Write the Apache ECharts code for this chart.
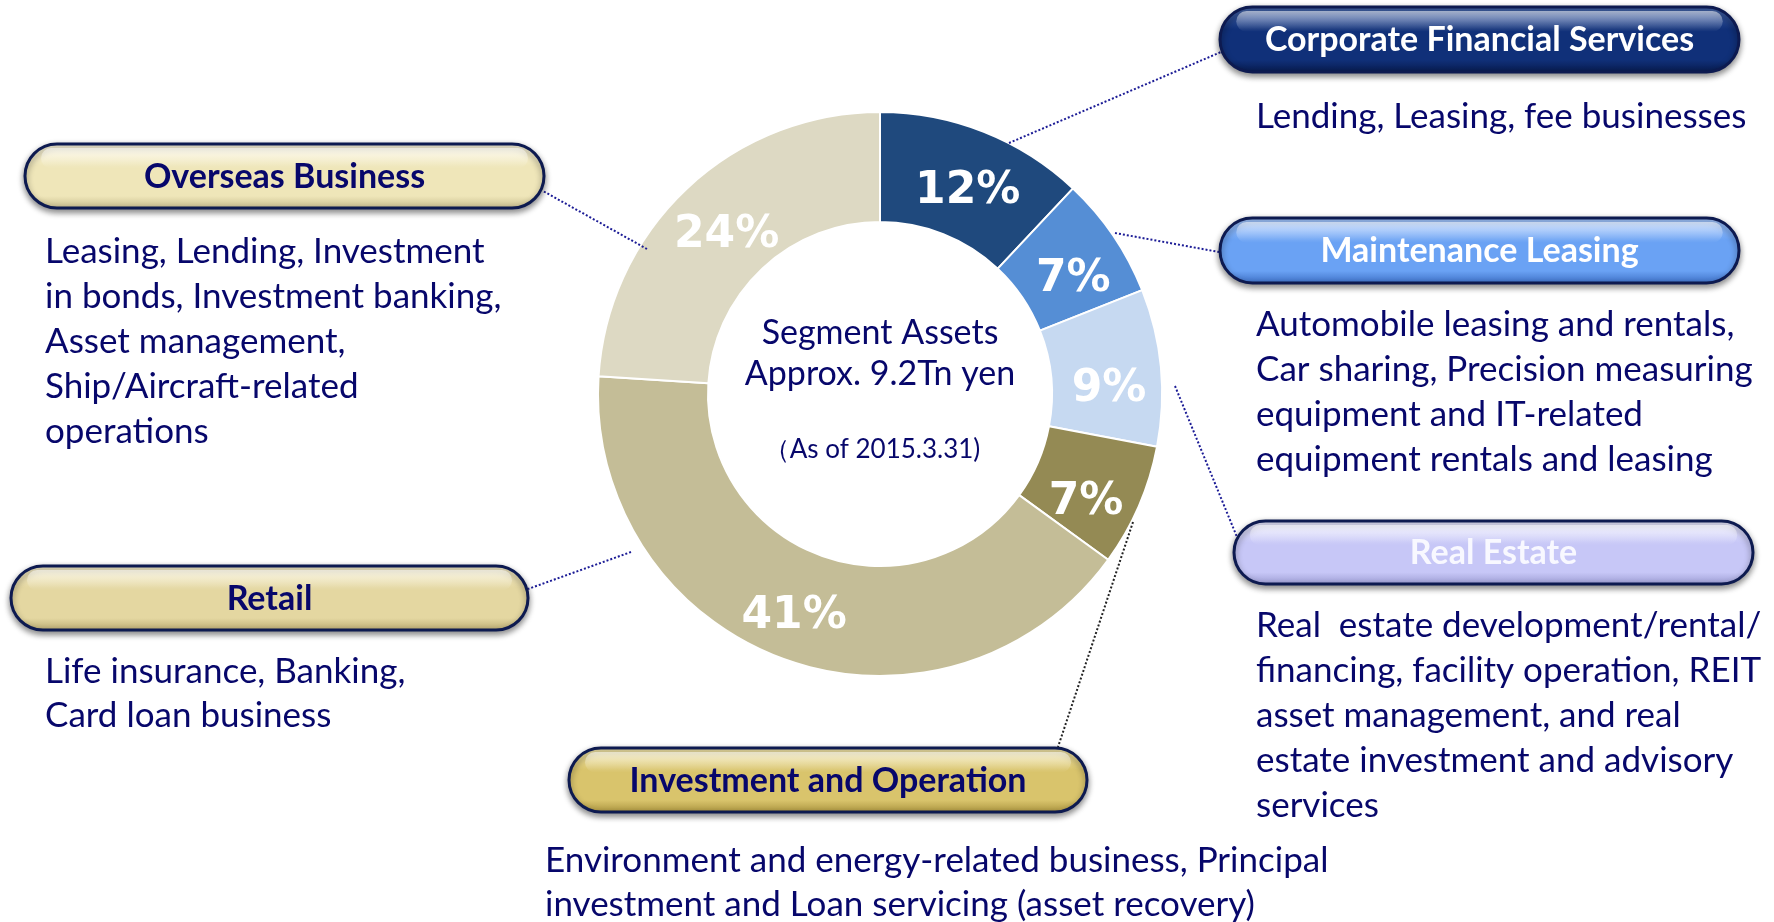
<!DOCTYPE html>
<html>
<head>
<meta charset="utf-8">
<style>
  html, body { margin: 0; padding: 0; background: #fff; }
  #chart { width: 1774px; height: 922px; }
</style>
<script src="https://cdn.jsdelivr.net/npm/echarts@6/dist/echarts.min.js"></script>
</head>
<body>
<div id="chart"></div>
<script>
// segment data (share of segment assets, %)
const segments = ['Corporate Financial Services', 'Maintenance Leasing', 'Real Estate', 'Investment and Operation', 'Retail', 'Overseas Business']
const shares = [12, 7, 9, 7, 41, 24]
const sliceColors = ['#1f497d', '#558ed5', '#c6d9f1', '#948a54', '#c4bd97', '#ddd9c3']

const descriptions = [
  ['Lending, Leasing, fee businesses'],
  ['Automobile leasing and rentals,', 'Car sharing, Precision measuring', 'equipment and IT-related', 'equipment rentals and leasing'],
  ['Real  estate development/rental/', 'financing, facility operation, REIT', 'asset management, and real', 'estate investment and advisory', 'services'],
  ['Environment and energy-related business, Principal', 'investment and Loan servicing (asset recovery)'],
  ['Life insurance, Banking,', 'Card loan business'],
  ['Leasing, Lending, Investment', 'in bonds, Investment banking,', 'Asset management,', 'Ship/Aircraft-related', 'operations'],
]
const centerLines = ['Segment Assets', 'Approx. 9.2Tn yen', '（As of 2015.3.31)']

// layout / styling
const NAVY = '#07076b'
const TEXT_FONT = 'Lato'
const labelShift = [[3, 11], [3, 15], [0, 17], [-5, 17], [-8, 6], [4, 9]]

const pills = [
  { x: 1220, y: 7, w: 519, h: 65, light: '#4a6bb0', base: '#103079', dark: '#07194a', text: '#ffffff', descX: 1256, descY: 117, lh: 45 },
  { x: 1220, y: 218, w: 519, h: 65, light: '#aacbff', base: '#6aa2f4', dark: '#3a6cc2', text: '#ffffff', descX: 1256, descY: 325, lh: 45 },
  { x: 1234, y: 521, w: 519, h: 63, light: '#ececff', base: '#c7c7f7', dark: '#9a9ad0', text: '#f8f8ff', descX: 1256, descY: 626, lh: 45 },
  { x: 569, y: 748, w: 518, h: 64, light: '#f4e9b0', base: '#d9c46c', dark: '#a8913c', text: NAVY, descX: 545, descY: 861, lh: 44 },
  { x: 11, y: 566, w: 517, h: 64, light: '#f7efcc', base: '#e4d7a1', dark: '#b6a76e', text: NAVY, descX: 45, descY: 672, lh: 44 },
  { x: 25, y: 144, w: 519, h: 64, light: '#fcf7e0', base: '#efe6b9', dark: '#c4b98a', text: NAVY, descX: 45, descY: 252, lh: 45 },
]

// leader lines from ring to pill
const leaders = [
  { from: [1009, 143], to: [1221, 52], color: '#1c1c96' },
  { from: [1115, 233], to: [1219, 252], color: '#1c1c96' },
  { from: [1175, 386], to: [1237, 537], color: '#1c1c96' },
  { from: [1133, 522], to: [1058, 747], color: '#222222' },
  { from: [631, 552], to: [528, 589], color: '#1c1c96' },
  { from: [647, 249], to: [543, 191], color: '#1c1c96' },
]

function textEl(x, y, text, opts) {
  return {
    type: 'text',
    x: x,
    y: y,
    silent: true,
    z: 20,
    style: Object.assign({
      text: text,
      fill: NAVY,
      fontFamily: TEXT_FONT,
      fontSize: 35,
      align: 'left',
      verticalAlign: 'middle',
      textAlign: 'left',
      textVerticalAlign: 'middle',
    }, opts || {}),
  }
}

function pillEls(p, name) {
  const r = p.h / 2
  return [
    {
      type: 'rect',
      z: 10,
      shape: { x: p.x, y: p.y, width: p.w, height: p.h, r: r },
      style: {
        fill: {
          type: 'linear', x: 0, y: 0, x2: 0, y2: 1,
          colorStops: [
            { offset: 0, color: p.light },
            { offset: 0.35, color: p.base },
            { offset: 0.8, color: p.base },
            { offset: 1, color: p.dark },
          ],
        },
        stroke: '#0d1a50',
        lineWidth: 3,
        shadowBlur: 6,
        shadowOffsetY: 3,
        shadowColor: 'rgba(0,0,0,0.45)',
      },
    },
    {
      type: 'rect',
      z: 11,
      shape: { x: p.x + r * 0.5, y: p.y + 4, width: p.w - r, height: p.h * 0.32, r: p.h * 0.16 },
      style: {
        fill: {
          type: 'linear', x: 0, y: 0, x2: 0, y2: 1,
          colorStops: [
            { offset: 0, color: 'rgba(255,255,255,0.55)' },
            { offset: 1, color: 'rgba(255,255,255,0)' },
          ],
        },
      },
    },
    textEl(p.x + p.w / 2, p.y + p.h / 2 + 1, name, {
      fill: p.text, fontWeight: 'bold', fontSize: 34, align: 'center', textAlign: 'center',
    }),
  ]
}

const graphics = []
leaders.forEach((l) => {
  graphics.push({
    type: 'line',
    z: 5,
    shape: { x1: l.from[0], y1: l.from[1], x2: l.to[0], y2: l.to[1] },
    style: { stroke: l.color, lineWidth: 2, lineDash: [2, 2] },
  })
})
segments.forEach((name, i) => {
  const p = pills[i]
  pillEls(p, name).forEach((e) => graphics.push(e))
  descriptions[i].forEach((line, j) => {
    graphics.push(textEl(p.descX, p.descY + j * p.lh, line))
  })
})
graphics.push(textEl(880, 333, centerLines[0], { align: 'center', textAlign: 'center', fontSize: 34 }))
graphics.push(textEl(880, 374, centerLines[1], { align: 'center', textAlign: 'center', fontSize: 34 }))
graphics.push(textEl(872, 450, centerLines[2], { align: 'center', textAlign: 'center', fontSize: 26 }))

const chart = echarts.init(document.getElementById('chart'))
chart.setOption({
  animation: false,
  backgroundColor: '#ffffff',
  series: [
    {
      type: 'pie',
      center: [880, 394],
      radius: [172, 282],
      startAngle: 90,
      clockwise: true,
      avoidLabelOverlap: false,
      data: segments.map((name, i) => ({
        name: name,
        value: shares[i],
        itemStyle: { color: sliceColors[i] },
      })),
      itemStyle: { borderColor: '#ffffff', borderWidth: 2 },
      label: {
        show: true,
        position: 'inside',
        formatter: '{c}%',
        color: '#ffffff',
        fontFamily: 'DejaVu Sans',
        fontWeight: 'bold',
        fontSize: 44,
      },
      labelLine: { show: false },
      labelLayout: (params) => ({
        dx: labelShift[params.dataIndex][0],
        dy: labelShift[params.dataIndex][1],
      }),
      emphasis: { disabled: true },
    },
  ],
  graphic: graphics,
})
</script>
</body>
</html>
